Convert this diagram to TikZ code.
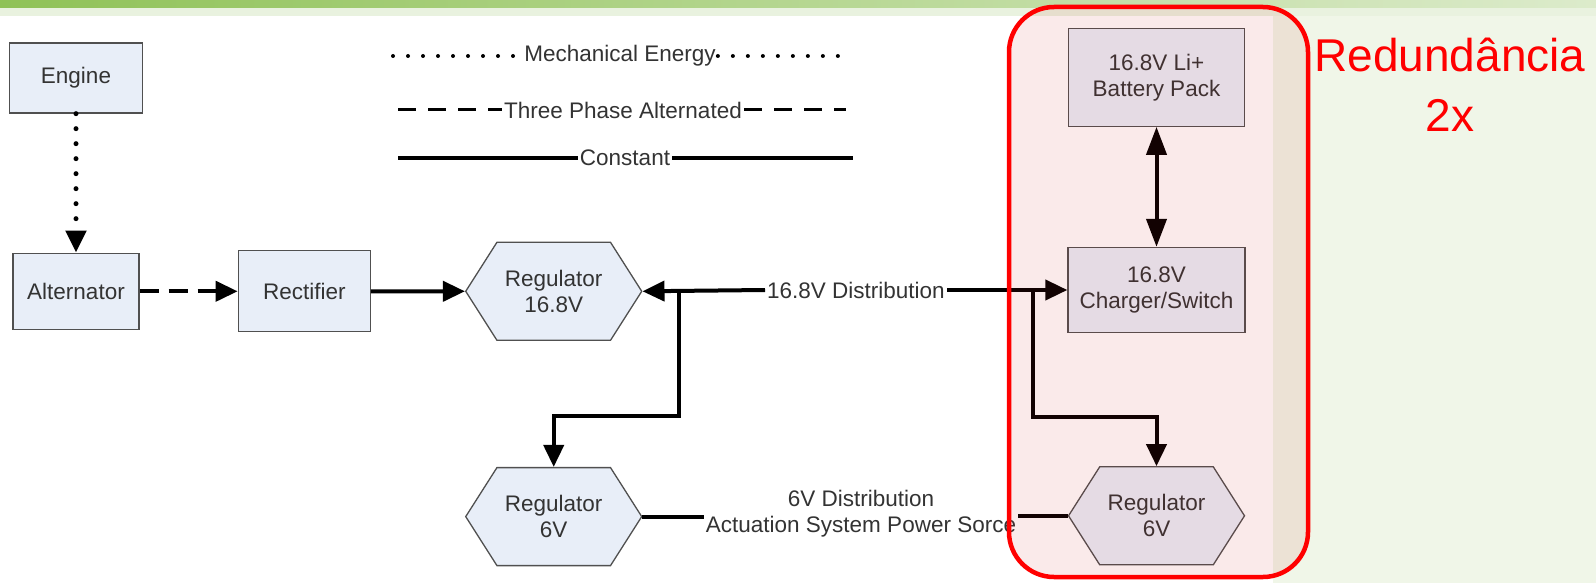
\documentclass[tikz,border=0pt]{standalone}
\usepackage{fontspec}
\setmainfont{Liberation Sans}
\usetikzlibrary{arrows.meta,positioning,shapes.symbols}
\definecolor{ink}{HTML}{333333}
\definecolor{edge}{HTML}{505050}
\definecolor{boxfill}{HTML}{E8EEF8}
\definecolor{sidegreen}{HTML}{F0F6E8}
\definecolor{barhi}{HTML}{8FC257}
\definecolor{barlo}{HTML}{DCEBCB}
\definecolor{bandgreen}{HTML}{E9F2DF}
\definecolor{alert}{HTML}{FF0000}
\definecolor{blush}{RGB}{200,30,30}
\tikzset{
  unit/.style={draw=edge,fill=boxfill,line width=1.3pt,inner sep=4pt,align=center,text=ink,font=\fontsize{22.5}{26}\selectfont},
  regbox/.style={unit,signal,signal to=west and east,signal pointer angle=115,minimum width=176pt,minimum height=98pt},
  tag/.style={inner sep=2pt,align=center,text=ink,font=\fontsize{22.5}{26}\selectfont},
  flow/.style={-{Triangle[length=22pt,width=20pt]},line width=4pt,draw=black},
  twoway/.style={{Triangle[length=28pt,width=20pt]}-{Triangle[length=28pt,width=20pt]},line width=4pt,draw=black},
  wire/.style={line width=4pt,draw=black},
  mechflow/.style={flow,line cap=round,dash pattern=on 0pt off 15pt,line width=5pt},
  acflow/.style={flow,dash pattern=on 19pt off 10pt},
  keydot/.style={line width=4pt,line cap=round,dash pattern=on 0pt off 15pt},
  keydash/.style={line width=3pt,dash pattern=on 18pt off 12pt},
  keysolid/.style={line width=4pt}
}

\begin{document}
\begin{tikzpicture}[x=1pt,y=-1pt]
    \useasboundingbox (0,0) rectangle (1596,583);
    % page background
    \fill[white] (0,0) rectangle (1596,583);
    \fill[sidegreen] (1273,16) rectangle (1596,583);
    \shade[left color=barhi,right color=barlo] (0,0) rectangle (1596,8);
    \fill[bandgreen] (0,8) rectangle (1596,16);

    % legend
    \node[tag] (kmech) at (620,56) {Mechanical Energy};
    \node[tag] (kac) at (623,110) {Three Phase Alternated};
    \node[tag] (kdc) at (625,158) {Constant};
    \coordinate (kmechl) at (393,56);
    \coordinate (kmechr) at (852,56);
    \coordinate (kacl) at (398,110);
    \coordinate (kacr) at (846,110);
    \coordinate (kdcl) at (398,158);
    \coordinate (kdcr) at (853,158);
    \draw[keydot] (kmechl) -- (kmech.west);
    \draw[keydot] (kmech.east) -- (kmechr);
    \draw[keydash] (kacl) -- (kac.west);
    \draw[keydash] (kac.east) -- (kacr);
    \draw[keysolid] (kdcl) -- (kdc.west);
    \draw[keysolid] (kdc.east) -- (kdcr);

    % generation chain
    \node[unit,minimum width=133pt,minimum height=70pt] (engine) at (76,78) {Engine};
    \node[unit,below=139pt of engine,minimum width=126pt,minimum height=76pt] (alternator) {Alternator};
    \node[unit,right=98pt of alternator,minimum width=132pt,minimum height=81pt] (rectifier) {Rectifier};
    \node[regbox,right=94pt of rectifier] (reghigh) {Regulator\\16.8V};
    \node[regbox,below=126pt of reghigh] (reglow) {Regulator\\6V};

    % redundant side
    \node[unit,minimum width=177pt,minimum height=85pt] (charger) at (1156.5,290) {16.8V\\Charger/Switch};
    \node[unit,above=120pt of charger,minimum width=176pt,minimum height=98pt] (battery) {16.8V Li+\\Battery Pack};
    \node[regbox,below=133pt of charger] (regside) {Regulator\\6V};

    \node[tag] (highbus) at (856,290) {16.8V Distribution};
    \node[tag] (lowbus) at (861,514) {6V Distribution\\Actuation System Power Sorce};
    \coordinate (tapleft) at (679,290);
    \coordinate (tapright) at (1033,290);

    \draw[mechflow] (engine) -- (alternator);
    \draw[acflow] (alternator) -- (rectifier);
    \draw[flow] (rectifier) -- (reghigh);
    \draw[flow] (highbus.west) -- (reghigh.east);
    \draw[flow] (highbus.east) -- (charger.west);
    \draw[flow] (tapleft) -- ++(0,126) -| (reglow.north);
    \draw[flow] (tapright) -- ++(0,127) -| (regside.north);
    \draw[twoway] (battery) -- (charger);
    \draw[wire] (reglow.east) -- (reglow.east -| lowbus.west);
    \draw[wire] (regside.west -| lowbus.east) -- (regside.west);

    % redundancy frame
    \draw[alert,line width=4.5pt,rounded corners=45pt,fill=blush,fill opacity=0.09] (1009,7) rectangle (1308,577);
    \node[text=alert,align=center,font=\fontsize{46}{60}\selectfont] (redund) at (1450,85) {Redundância\\2x};
  \end{tikzpicture}
\end{document}
